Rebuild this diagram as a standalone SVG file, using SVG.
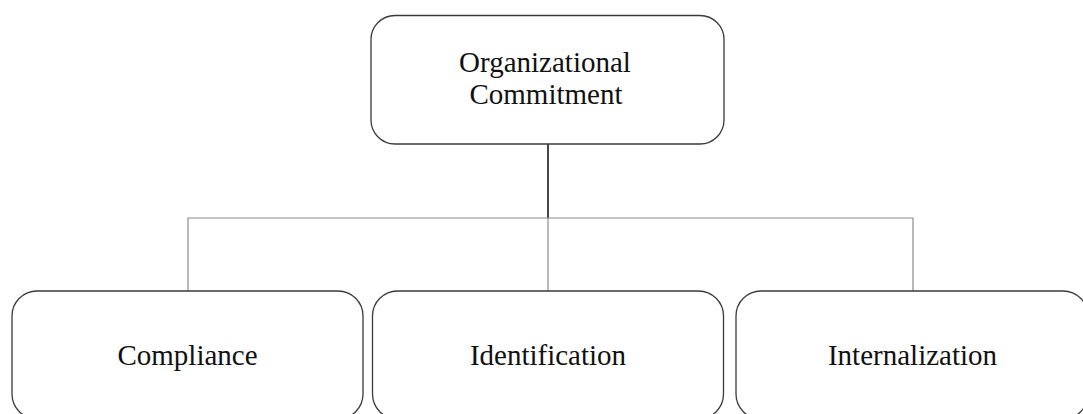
<svg xmlns="http://www.w3.org/2000/svg" width="1083" height="414" viewBox="0 0 1083 414">
  <style>
    .box { fill: #ffffff; stroke: #3a3a3a; stroke-width: 1.3; }
    .label { font-family: "Liberation Serif", "Times New Roman", serif; font-size: 29px; fill: #111111; text-anchor: middle; }
    .trunk { stroke: #1a1a1a; stroke-width: 1.6; fill: none; }
    .branch { stroke: #8c8c8c; stroke-width: 1.2; fill: none; }
  </style>
  <rect width="1083" height="414" fill="#ffffff"/>

  <!-- hierarchy connectors -->
  <g id="connectors">
    <line class="trunk" x1="548" y1="144" x2="548" y2="218"/>
    <polyline class="branch" points="188,291 188,218 913,218 913,291"/>
    <line class="branch" x1="548" y1="218" x2="548" y2="291"/>
  </g>

  <g id="node-commitment">
    <rect class="box" x="371" y="15.5" width="353" height="128.5" rx="24" ry="24"/>
    <text class="label" x="545" y="72">Organizational</text>
    <text class="label" x="546" y="104">Commitment</text>
  </g>

  <g id="node-compliance">
    <rect class="box" x="12" y="291" width="351" height="128" rx="25" ry="25"/>
    <text class="label" x="187.5" y="365">Compliance</text>
  </g>

  <g id="node-identification">
    <rect class="box" x="372.5" y="291" width="351" height="128" rx="25" ry="25"/>
    <text class="label" x="548" y="365">Identification</text>
  </g>

  <g id="node-internalization">
    <rect class="box" x="736" y="291" width="352" height="128" rx="25" ry="25"/>
    <text class="label" x="912.5" y="365">Internalization</text>
  </g>
</svg>
